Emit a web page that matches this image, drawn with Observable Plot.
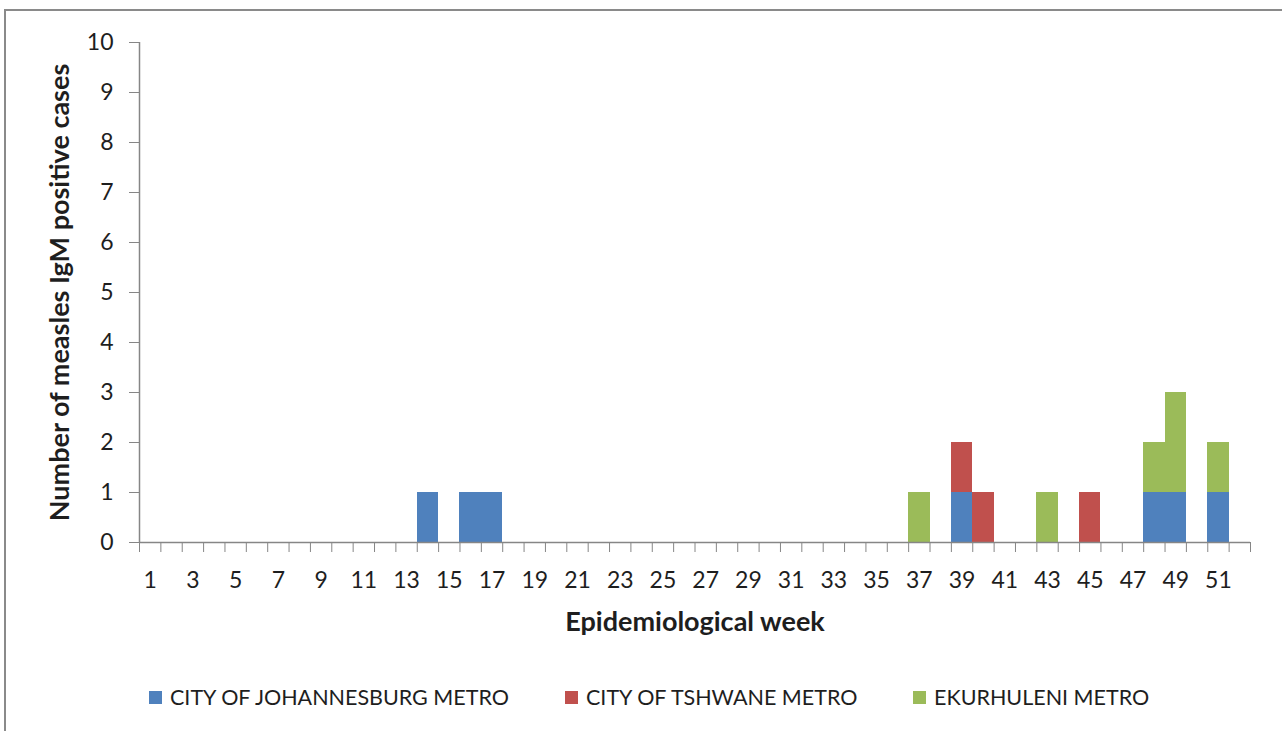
<!DOCTYPE html>
<html>
<head>
<meta charset="utf-8">
<script src="https://cdn.jsdelivr.net/npm/d3@7"></script>
<script src="https://cdn.jsdelivr.net/npm/@observablehq/plot@0.6"></script>
<style>
  html, body { margin: 0; padding: 0; background: #fff; }
  body { width: 1282px; height: 731px; position: relative; overflow: hidden; font-family: Lato, "Open Sans", sans-serif; }
  #frame { position: absolute; left: 4px; top: 9px; width: 1300px; height: 760px; border-left: 2px solid #8a8a8a; border-top: 2px solid #8a8a8a; box-sizing: border-box; pointer-events: none; }
  #chart { position: absolute; left: 0; top: 0; }
  .leg { position: absolute; top: 684px; display: flex; align-items: center; font-size: 21.5px; color: #1e1e1e; white-space: nowrap; }
  .leg .sw { width: 13px; height: 13px; margin-right: 8px; }
</style>
</head>
<body>
<div id="chart"></div>
<div id="frame"></div>
<div id="legend"></div>
<script>
// ---- data ----
const weeks = d3.range(1, 53);
const metros = ["CITY OF JOHANNESBURG METRO", "CITY OF TSHWANE METRO", "EKURHULENI METRO"];
const colors = ["#4F81BD", "#C0504D", "#9BBB59"];
const johannesburg = [0,0,0,0,0,0,0,0,0,0,0,0,0,1,0,1,1,0,0,0,0,0,0,0,0,0,0,0,0,0,0,0,0,0,0,0,0,0,1,0,0,0,0,0,0,0,0,1,1,0,1,0];
const tshwane      = [0,0,0,0,0,0,0,0,0,0,0,0,0,0,0,0,0,0,0,0,0,0,0,0,0,0,0,0,0,0,0,0,0,0,0,0,0,0,1,1,0,0,0,0,1,0,0,0,0,0,0,0];
const ekurhuleni   = [0,0,0,0,0,0,0,0,0,0,0,0,0,0,0,0,0,0,0,0,0,0,0,0,0,0,0,0,0,0,0,0,0,0,0,0,1,0,0,0,0,0,1,0,0,0,0,1,2,0,1,0];
const yTicks = d3.range(0, 11);
const xLabelWeeks = weeks.filter(w => w % 2 === 1);
const yLabel = "Number of measles IgM positive cases";
const xLabel = "Epidemiological week";

const series = [johannesburg, tshwane, ekurhuleni];
const table = [];
weeks.forEach((w, i) => {
  metros.forEach((m, j) => {
    if (series[j][i] > 0) table.push({week: w, metro: m, count: series[j][i]});
  });
});
const boundaries = d3.range(0, weeks.length + 1).map(i => weeks[0] - 0.5 + i);

const axisColor = "#868686";
const textColor = "#1e1e1e";

const plot = Plot.plot({
  width: 1282,
  height: 660,
  marginLeft: 139,
  marginRight: 32,
  marginTop: 42,
  marginBottom: 118,
  style: {fontFamily: "Lato, 'Open Sans', sans-serif", fontSize: "23px", background: "transparent", overflow: "visible"},
  x: {type: "linear", domain: [boundaries[0], boundaries[boundaries.length - 1]]},
  y: {domain: [0, 10]},
  color: {domain: metros, range: colors},
  marks: [
    Plot.rectY(table, {x1: d => d.week - 0.5, x2: d => d.week + 0.5, y: "count", fill: "metro", shapeRendering: "crispEdges"}),
    Plot.ruleY([0], {stroke: axisColor, strokeWidth: 1.5}),
    Plot.ruleX([boundaries[0]], {stroke: axisColor, strokeWidth: 1.5}),
    Plot.axisY({ticks: yTicks, tickSize: 10, tickPadding: 16, stroke: axisColor, fill: textColor, label: null, fontSize: 23}),
    Plot.axisX({ticks: boundaries, tickSize: 10, tickFormat: () => "", stroke: axisColor, label: null}),
    Plot.axisX({ticks: xLabelWeeks, tickSize: 0, tickPadding: 29, fill: textColor, label: null, fontSize: 23}),
    Plot.text([yLabel], {frameAnchor: "left", textAnchor: "middle", lineAnchor: "middle", rotate: -90, dx: -79, fontWeight: "bold", fontSize: 27, fill: textColor}),
    Plot.text([xLabel], {frameAnchor: "bottom", textAnchor: "middle", lineAnchor: "middle", dy: 80, fontWeight: "bold", fontSize: 27, fill: textColor})
  ]
});
document.getElementById("chart").appendChild(plot);

// legend
const legLeft = [149, 565, 913];
const legend = document.getElementById("legend");
metros.forEach((m, i) => {
  const item = document.createElement("div");
  item.className = "leg";
  item.style.left = legLeft[i] + "px";
  item.innerHTML = `<span class="sw" style="background:${colors[i]}"></span><span>${m}</span>`;
  legend.appendChild(item);
});
</script>
</body>
</html>
